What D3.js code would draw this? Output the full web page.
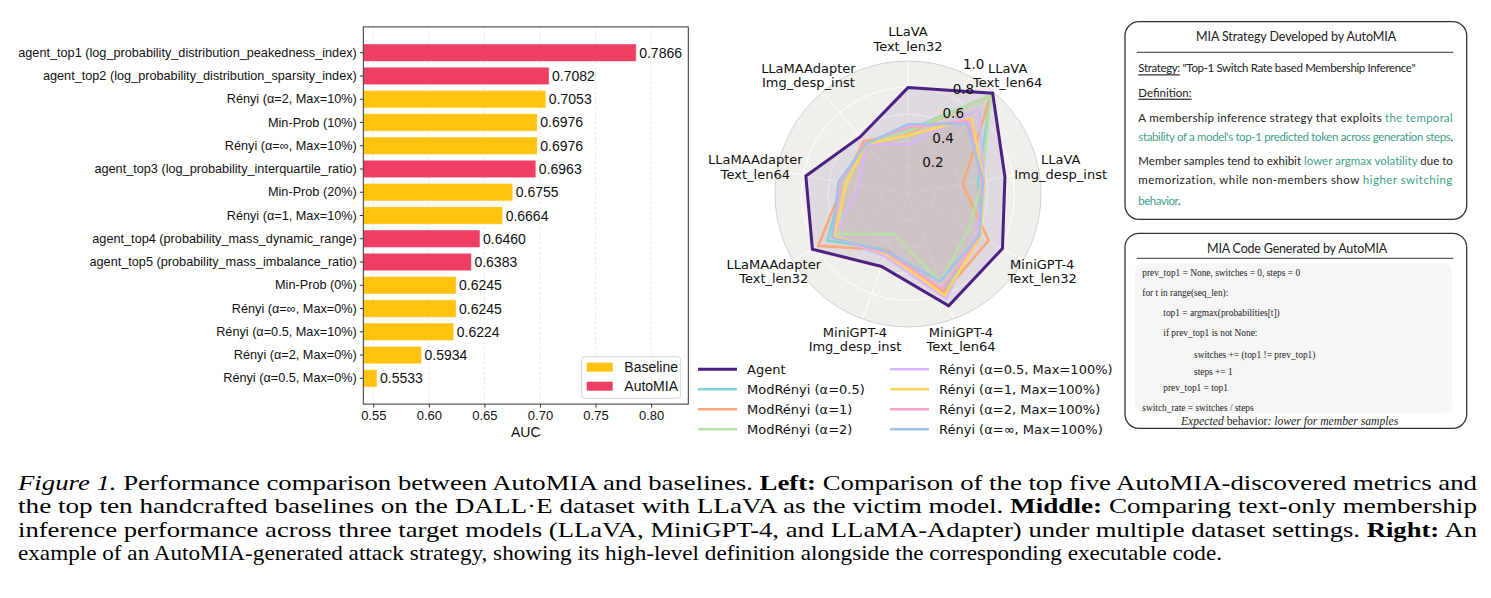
<!DOCTYPE html>
<html><head><meta charset="utf-8">
<script src="https://cdn.jsdelivr.net/npm/d3@7"></script>
<style>body{margin:0;background:#fff}text{white-space:pre}</style>
</head><body><svg id="c" width="1491" height="598"></svg>
<script>
// ---------------- DATA ----------------
const barLabels = [
  "agent_top1 (log_probability_distribution_peakedness_index)",
  "agent_top2 (log_probability_distribution_sparsity_index)",
  "Rényi (α=2, Max=10%)",
  "Min-Prob (10%)",
  "Rényi (α=∞, Max=10%)",
  "agent_top3 (log_probability_interquartile_ratio)",
  "Min-Prob (20%)",
  "Rényi (α=1, Max=10%)",
  "agent_top4 (probability_mass_dynamic_range)",
  "agent_top5 (probability_mass_imbalance_ratio)",
  "Min-Prob (0%)",
  "Rényi (α=∞, Max=0%)",
  "Rényi (α=0.5, Max=10%)",
  "Rényi (α=2, Max=0%)",
  "Rényi (α=0.5, Max=0%)"
];
const barValues = [0.7866, 0.7082, 0.7053, 0.6976, 0.6976, 0.6963, 0.6755, 0.6664, 0.6460, 0.6383, 0.6245, 0.6245, 0.6224, 0.5934, 0.5533];
const barGroups = ["AutoMIA","AutoMIA","Baseline","Baseline","Baseline","AutoMIA","Baseline","Baseline","AutoMIA","AutoMIA","Baseline","Baseline","Baseline","Baseline","Baseline"];
const barXTicks = [0.55, 0.60, 0.65, 0.70, 0.75, 0.80];
const barLegend = ["Baseline", "AutoMIA"];

const radarAxes = [
  ["LLaVA","Text_len32"], ["LLaVA","Text_len64"], ["LLaVA","Img_desp_inst"],
  ["MiniGPT-4","Text_len32"], ["MiniGPT-4","Text_len64"], ["MiniGPT-4","Img_desp_inst"],
  ["LLaMAAdapter","Text_len32"], ["LLaMAAdapter","Text_len64"], ["LLaMAAdapter","Img_desp_inst"]
];
const radarNames = ["Agent","ModRényi (α=0.5)","ModRényi (α=1)","ModRényi (α=2)",
  "Rényi (α=0.5, Max=100%)","Rényi (α=1, Max=100%)","Rényi (α=2, Max=100%)","Rényi (α=∞, Max=100%)"];
const agentVals      = [0.80, 0.99, 0.74, 0.82, 0.895, 0.58, 0.83, 0.78, 0.56];
const modRenyi05     = [0.48, 0.97, 0.535, 0.63, 0.77, 0.45, 0.70, 0.50, 0.50];
const modRenyi1      = [0.46, 0.97, 0.42, 0.70, 0.79, 0.45, 0.78, 0.49, 0.52];
const modRenyi2      = [0.47, 0.97, 0.565, 0.53, 0.70, 0.32, 0.60, 0.49, 0.50];
const renyi05        = [0.37, 0.83, 0.58, 0.60, 0.84, 0.50, 0.64, 0.37, 0.49];
const renyi1         = [0.44, 0.74, 0.58, 0.63, 0.81, 0.48, 0.64, 0.47, 0.49];
const renyi2         = [0.50, 0.72, 0.56, 0.62, 0.76, 0.47, 0.66, 0.51, 0.50];
const renyiInf       = [0.525, 0.69, 0.575, 0.62, 0.70, 0.46, 0.66, 0.53, 0.49];
const radarTicks = [0.2, 0.4, 0.6, 0.8, 1.0];

// ---------------- STYLE ----------------
const C_BASE = "#FFC20E", C_AUTO = "#EE3E64";
const radarColors = ["#4b2283","#80d6d2","#f8a97a","#b8dfa6","#d8b6f7","#fdd45c","#f7a6c9","#9fc3ea"];

const svg = d3.select("#c");
svg.append("rect").attr("width",1491).attr("height",598).attr("fill","#fff");

// ================= BAR CHART =================
{
  const L = 363.3, R = 688.3, T = 26.9, B = 404.1;
  const x = d3.scaleLinear().domain([0.541, 0.8335]).range([L, R]);
  const y = d3.scaleBand().domain(barLabels).range([T, B]).paddingInner(0.25).paddingOuter(0.734);
  const g = svg.append("g").attr("font-family","'Liberation Sans', Arial, sans-serif");
  g.selectAll("line.grid").data(barXTicks).join("line")
    .attr("x1", d => x(d)).attr("x2", d => x(d)).attr("y1", T).attr("y2", B)
    .attr("stroke", "#dedede").attr("stroke-width", 0.8).attr("stroke-dasharray", "2.5,2.5");
  g.selectAll("rect.bar").data(barLabels).join("rect")
    .attr("x", x(0.541)).attr("y", d => y(d))
    .attr("width", (d,i) => x(barValues[i]) - x(0.541)).attr("height", y.bandwidth())
    .attr("fill", (d,i) => barGroups[i] === "AutoMIA" ? C_AUTO : C_BASE)
    .attr("stroke", "#fff").attr("stroke-opacity", 0.45).attr("stroke-width", 1);
  g.selectAll("text.val").data(barLabels).join("text")
    .attr("x", (d,i) => x(barValues[i]) + 3).attr("y", d => y(d) + y.bandwidth()/2)
    .attr("dominant-baseline","central").attr("font-size", 14).attr("fill","#111")
    .text((d,i) => barValues[i].toFixed(4));
  const ax = g.append("g").attr("transform", `translate(0,${B})`)
    .call(d3.axisBottom(x).tickValues(barXTicks).tickFormat(d3.format(".2f")).tickSize(3.5).tickPadding(3));
  ax.select(".domain").remove();
  ax.selectAll("text").attr("font-size", 13).attr("fill","#111").attr("font-family","'Liberation Sans', Arial, sans-serif");
  ax.selectAll("line").attr("stroke","#333");
  const ay = g.append("g").attr("transform", `translate(${L},0)`)
    .call(d3.axisLeft(y).tickSize(3.5).tickPadding(3));
  ay.select(".domain").remove();
  ay.selectAll("text").attr("font-size", 12.7).attr("fill","#111").attr("font-family","'Liberation Sans', Arial, sans-serif");
  ay.selectAll("line").attr("stroke","#333");
  g.append("rect").attr("x", L).attr("y", T).attr("width", R-L).attr("height", B-T)
    .attr("fill","none").attr("stroke","#333").attr("stroke-width",1);
  g.append("text").attr("x", (L+R)/2).attr("y", 432).attr("text-anchor","middle")
    .attr("dominant-baseline","central").attr("font-size", 14).attr("fill","#111").text("AUC");
  const lg = g.append("g");
  lg.append("rect").attr("x", 581.7).attr("y", 356.7).attr("width", 99).attr("height", 41.6)
    .attr("rx", 3).attr("fill","#fff").attr("fill-opacity",0.85).attr("stroke","#d5d5d5");
  barLegend.forEach((name,i) => {
    lg.append("rect").attr("x", 586.7).attr("y", 362.7 + i*19).attr("width", 26).attr("height", 9)
      .attr("fill", name === "AutoMIA" ? C_AUTO : C_BASE);
    lg.append("text").attr("x", 624.3).attr("y", 367.3 + i*19).attr("dominant-baseline","central")
      .attr("font-size", 14).attr("fill","#111").text(name);
  });
}

// ================= RADAR CHART =================
{
  const cx = 908, cy = 194, R = 133;
  const r = d3.scaleLinear().domain([0, 1]).range([0, R]);
  const n = radarAxes.length;
  const ang = i => i * 2 * Math.PI / n;
  const g = svg.append("g").attr("transform", `translate(${cx},${cy})`).attr("font-family","'DejaVu Sans', sans-serif");
  g.append("circle").attr("r", R).attr("fill", "#f0efeb");
  radarTicks.slice(0, -1).forEach(t => g.append("circle").attr("r", r(t)).attr("fill","none").attr("stroke","#fff").attr("stroke-width",1));
  radarAxes.forEach((a,i) => g.append("line").attr("x1",0).attr("y1",0)
    .attr("x2", R*Math.sin(ang(i))).attr("y2", -R*Math.cos(ang(i))).attr("stroke","#fff").attr("stroke-width",1));
  g.append("circle").attr("r", R).attr("fill","none").attr("stroke","#d3d3d3").attr("stroke-width",1);
  const series = [agentVals, modRenyi05, modRenyi1, modRenyi2, renyi05, renyi1, renyi2, renyiInf];
  const line = d3.lineRadial().angle((d,i) => ang(i)).radius(d => r(d)).curve(d3.curveLinearClosed);
  const order = [1,2,3,4,5,6,7,0];
  order.forEach(k => g.append("path").attr("d", line(series[k])).attr("fill", radarColors[k]).attr("fill-opacity", 0.1).attr("stroke","none"));
  order.forEach(k => g.append("path").attr("d", line(series[k])).attr("fill","none")
    .attr("stroke", radarColors[k]).attr("stroke-width", k === 0 ? 3 : 2.5).attr("stroke-linejoin","miter"));
  const ra = 22.5 * Math.PI / 180;
  radarTicks.forEach(t => g.append("text")
    .attr("x", r(t)*Math.sin(ra) + 4).attr("y", -r(t)*Math.cos(ra) - 2)
    .attr("font-size", 13.5).attr("fill","#111").text(t.toFixed(1)));
  radarAxes.forEach((a,i) => {
    const px = 155*Math.sin(ang(i)), py = -155*Math.cos(ang(i));
    const t = g.append("text").attr("text-anchor","middle").attr("font-size", 13).attr("fill","#111");
    t.append("tspan").attr("x", px).attr("y", py - 7.2).attr("dominant-baseline","central").text(a[0]);
    t.append("tspan").attr("x", px).attr("y", py + 7.2).attr("dominant-baseline","central").text(a[1]);
  });
  const lg = svg.append("g").attr("font-family","'DejaVu Sans', sans-serif");
  radarNames.forEach((name,k) => {
    const col = k < 4 ? 0 : 1, row = k % 4;
    const x0 = col ? 890 : 698, yy = 369.3 + row*20;
    lg.append("line").attr("x1", x0).attr("x2", x0 + 39).attr("y1", yy).attr("y2", yy)
      .attr("stroke", radarColors[k]).attr("stroke-width", k === 0 ? 3 : 2.5);
    lg.append("text").attr("x", x0 + 49).attr("y", yy).attr("dominant-baseline","central")
      .attr("font-size", 13).attr("fill","#111").text(name);
  });
}

// ================= HELPERS =================
function fitFont(sel, width) {
  const fs = +sel.attr("font-size");
  const w = sel.node().getComputedTextLength();
  sel.attr("font-size", fs * width / w);
}
function letterFit(sel, width) {
  const node = sel.node();
  const w = node.getComputedTextLength();
  const n = node.textContent.length;
  sel.attr("letter-spacing", (width - w) / n);
}
function richText(parent, x, y, parts, opts) {
  const t = parent.append("text").attr("x", x).attr("y", y).attr("dominant-baseline","central");
  Object.entries(opts || {}).forEach(([k,v]) => t.attr(k, v));
  parts.forEach(p => {
    const s = t.append("tspan").text(p.t);
    if (p.c) s.attr("fill", p.c);
    if (p.i) s.attr("font-style","italic");
    if (p.b) s.attr("font-weight","bold");
    if (p.u) s.attr("text-decoration","underline");
  });
  return t;
}

// ================= RIGHT BOXES =================
{
  const F = "Lato, 'Open Sans', sans-serif";
  const FC = "'Liberation Serif', serif";
  const TEAL = "#3f9f8c", INK = "#222";
  const g = svg.append("g").attr("font-family", F).attr("fill", INK);
  g.append("rect").attr("x",1125).attr("y",21.7).attr("width",341.7).attr("height",197.6).attr("rx",14)
    .attr("fill","#fff").attr("stroke","#333").attr("stroke-width",1.3);
  const t1 = g.append("text").attr("x",1296).attr("y",36).attr("text-anchor","middle").attr("dominant-baseline","central")
    .attr("font-size",12.5).text("MIA Strategy Developed by AutoMIA");
  letterFit(t1, 200);
  g.append("line").attr("x1",1136.7).attr("x2",1453.3).attr("y1",52.3).attr("y2",52.3).attr("stroke","#333").attr("stroke-width",1);
  const fs = 11.5;
  const s1 = richText(g, 1138.3, 67.3, [{t:"Strategy:", u:true},{t:" \"Top-1 Switch Rate based Membership Inference\""}], {"font-size":fs});
  letterFit(s1, 277);
  richText(g, 1138.3, 91.7, [{t:"Definition:", u:true}], {"font-size":fs});
  const body = [
    [116.7, [{t:"A membership inference strategy that exploits "},{t:"the temporal", c:TEAL}], 1453],
    [135.7, [{t:"stability of a model's top-1 predicted token across generation steps", c:TEAL},{t:"."}], 1453],
    [160.0, [{t:"Member samples tend to exhibit "},{t:"lower argmax volatility", c:TEAL},{t:" due to"}], 1453],
    [179.3, [{t:"memorization, while non-members show "},{t:"higher switching", c:TEAL}], 1453],
    [200.0, [{t:"behavior", c:TEAL},{t:"."}], 1180]
  ];
  body.forEach(([yy, parts, xe]) => {
    const t = richText(g, 1138.3, yy, parts, {"font-size": fs});
    letterFit(t, xe - 1138.3);
  });
  g.append("rect").attr("x",1125).attr("y",233.3).attr("width",341.7).attr("height",195).attr("rx",14)
    .attr("fill","#fff").attr("stroke","#333").attr("stroke-width",1.3);
  const t2 = g.append("text").attr("x",1297).attr("y",248.3).attr("text-anchor","middle").attr("dominant-baseline","central")
    .attr("font-size",12.5).text("MIA Code Generated by AutoMIA");
  letterFit(t2, 180);
  g.append("line").attr("x1",1136.7).attr("x2",1453.3).attr("y1",258.3).attr("y2",258.3).attr("stroke","#333").attr("stroke-width",1);
  g.append("rect").attr("x",1135).attr("y",263.3).attr("width",316.7).attr("height",149.4).attr("rx",8).attr("fill","#f6f6f6");
  const code = [
    [1142.3, 272.7, "prev_top1 = None, switches = 0, steps = 0"],
    [1142.3, 293.3, "for t in range(seq_len):"],
    [1163.3, 313.3, "top1 = argmax(probabilities[t])"],
    [1163.3, 333.3, "if prev_top1 is not None:"],
    [1194.0, 355.0, "switches += (top1 != prev_top1)"],
    [1194.0, 372.0, "steps += 1"],
    [1163.3, 388.3, "prev_top1 = top1"],
    [1142.3, 408.3, "switch_rate = switches / steps"]
  ];
  const c0 = g.append("text").attr("x",code[0][0]).attr("y",code[0][1]).attr("dominant-baseline","central")
    .attr("font-family", FC).attr("font-size",11).text(code[0][2]);
  fitFont(c0, 158);
  const cfs = +c0.attr("font-size");
  code.slice(1).forEach(([xx,yy,s]) => g.append("text").attr("x",xx).attr("y",yy).attr("dominant-baseline","central")
    .attr("font-family", FC).attr("font-size",cfs).text(s));
  const ft = richText(g, 1181, 420.7, [{t:"Expected", i:true},{t:" behavior"},{t:": lower for member samples", i:true}],
    {"font-size": cfs, "font-family": FC});
  fitFont(ft, 217);
}

// ================= CAPTION =================
{
  const g = svg.append("g").attr("font-family","'Liberation Serif', 'Times New Roman', serif").attr("fill","#000");
  const lines = [
    [[{t:"Figure 1.", i:true},{t:" Performance comparison between AutoMIA and baselines. "},{t:"Left:", b:true},{t:" Comparison of the top five AutoMIA-discovered metrics and"}], 1477],
    [[{t:"the top ten handcrafted baselines on the DALL·E dataset with LLaVA as the victim model. "},{t:"Middle:", b:true},{t:" Comparing text-only membership"}], 1477],
    [[{t:"inference performance across three target models (LLaVA, MiniGPT-4, and LLaMA-Adapter) under multiple dataset settings. "},{t:"Right:", b:true},{t:" An"}], 1477],
    [[{t:"example of an AutoMIA-generated attack strategy, showing its high-level definition alongside the corresponding executable code."}], 1222]
  ];
  const ys = [481.5, 505, 528.5, 552];
  lines.forEach(([parts, xe], i) => {
    const t = richText(g, 18, ys[i], parts, {"font-size": 22});
    t.attr("textLength", xe - 18).attr("lengthAdjust", "spacingAndGlyphs");
  });
}
</script>
</body></html>
